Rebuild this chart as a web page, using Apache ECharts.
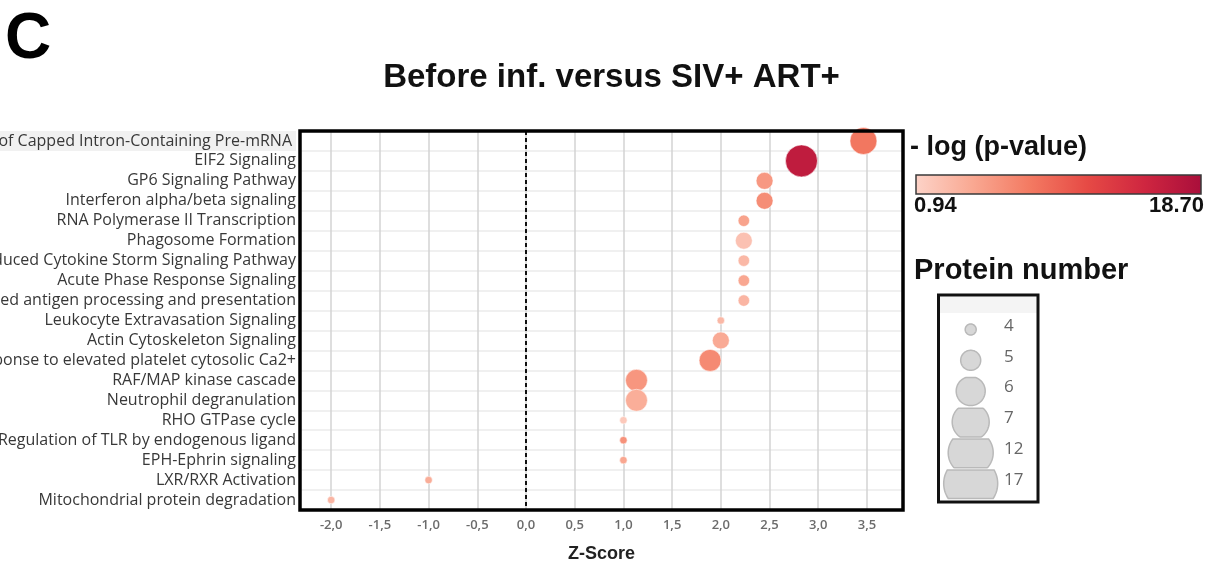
<!DOCTYPE html>
<html>
<head>
<meta charset="utf-8">
<script src="https://cdn.jsdelivr.net/npm/echarts@6/dist/echarts.min.js"></script>
<style>
  html, body { margin: 0; padding: 0; background: #fff; }
  #chart { width: 1223px; height: 565px; }
</style>
</head>
<body>
<div id="chart"></div>
<script>
// Enriched pathways, top to bottom
const pathways = [
  'Processing of Capped Intron-Containing Pre-mRNA',
  'EIF2 Signaling',
  'GP6 Signaling Pathway',
  'Interferon alpha/beta signaling',
  'RNA Polymerase II Transcription',
  'Phagosome Formation',
  'Pathogen Induced Cytokine Storm Signaling Pathway',
  'Acute Phase Response Signaling',
  'Class I MHC mediated antigen processing and presentation',
  'Leukocyte Extravasation Signaling',
  'Actin Cytoskeleton Signaling',
  'Response to elevated platelet cytosolic Ca2+',
  'RAF/MAP kinase cascade',
  'Neutrophil degranulation',
  'RHO GTPase cycle',
  'Regulation of TLR by endogenous ligand',
  'EPH-Ephrin signaling',
  'LXR/RXR Activation',
  'Mitochondrial protein degradation'
];

// Activation z-score per pathway
const zScores = [3.464, 2.828, 2.449, 2.449, 2.236, 2.236, 2.236, 2.236, 2.236,
                 2.0, 2.0, 1.89, 1.134, 1.134, 1.0, 1.0, 1.0, -1.0, -2.0];

// -log10(p-value) per pathway
const negLogP = [8.3, 16.6, 5.7, 6.6, 4.9, 2.4, 3.2, 4.6, 3.4,
                 3.2, 4.3, 6.8, 5.9, 4.0, 1.8, 6.2, 4.6, 4.1, 3.4];

// Number of proteins per pathway
const proteinCounts = [12, 17, 6, 6, 5, 6, 5, 5, 5, 4, 6, 7, 7, 7, 4, 4, 4, 4, 4];

// Colour scale range and size legend entries
const pRange = [0.94, 18.70];
const sizeLegendCounts = [4, 5, 6, 7, 12, 17];

const heatColors = ['#fdd3c8', '#f9a892', '#f37a62', '#e64a45', '#cf2640', '#a90e3b'];
const dotSize = { 4: 7.5, 5: 11.5, 6: 17, 7: 22, 12: 27, 17: 32 };
const legendSize = { 4: 11, 5: 20, 6: 29, 7: 37, 12: 45, 17: 54 };

const plot = { left: 300, top: 131, width: 603, height: 379 };
const boldFont = '"Liberation Sans", Arial, sans-serif';

// A circle cut flat at the top and bottom of its legend row
function bandCircle(cx, cy, r, top, bottom) {
  const pts = [];
  for (let k = 0; k <= 96; k++) {
    const a = (k / 96) * Math.PI * 2;
    const y = Math.min(bottom, Math.max(top, cy + r * Math.sin(a)));
    pts.push([cx + r * Math.cos(a), y]);
  }
  return pts;
}

const sizeLegend = [];
sizeLegendCounts.forEach((n, i) => {
  const cy = 329.5 + i * 30.8;
  sizeLegend.push({
    type: 'polygon',
    shape: { points: bandCircle(970.7, cy, legendSize[n] / 2, cy - 13.6, Math.min(cy + 15, 499)) },
    style: { fill: '#d7d7d7', stroke: '#b9b9b9', lineWidth: 1.5 },
    z: 20
  });
  sizeLegend.push({
    type: 'text', left: 1004, top: cy - 12,
    style: { text: String(n), fill: '#666', font: '17px "Open Sans", sans-serif' },
    z: 21
  });
});

const chart = echarts.init(document.getElementById('chart'));

chart.setOption({
  backgroundColor: '#fff',
  animation: false,
  grid: {
    left: plot.left, top: plot.top, width: plot.width, height: plot.height,
    containLabel: false,
    outerBoundsMode: 'none'
  },
  xAxis: {
    type: 'value',
    min: -2.32,
    max: 3.87,
    splitNumber: 12,
    name: 'Z-Score',
    nameLocation: 'middle',
    nameGap: 35,
    nameTextStyle: { fontFamily: boldFont, fontWeight: 'bold', fontSize: 18, color: '#222' },
    axisLine: { show: false },
    axisTick: { show: false },
    splitLine: { show: true, lineStyle: { color: '#d3d3d3', width: 1.5 } },
    axisLabel: {
      showMinLabel: false,
      showMaxLabel: false,
      margin: 9,
      color: '#6b6b6b',
      fontFamily: '"Open Sans", sans-serif',
      fontWeight: 600,
      fontSize: 13,
      formatter: v => v.toFixed(1).replace('.', ',')
    }
  },
  yAxis: {
    type: 'category',
    inverse: true,
    data: pathways,
    axisLine: { show: false },
    axisTick: { show: false },
    splitLine: { show: true, interval: 0, lineStyle: { color: '#ebebeb', width: 1.5 } },
    axisLabel: {
      interval: 0,
      margin: 4,
      color: '#383838',
      fontFamily: '"Open Sans", sans-serif',
      fontSize: 16,
      formatter: (v, i) => (i === 0 ? '{hl|' + v + '}' : v),
      rich: {
        hl: {
          backgroundColor: '#f1f1f1',
          padding: [2, 4, 2, 0],
          color: '#383838',
          fontFamily: '"Open Sans", sans-serif',
          fontSize: 16
        }
      }
    }
  },
  visualMap: [{
    type: 'continuous',
    show: false,
    seriesIndex: 0,
    dimension: 2,
    min: pRange[0],
    max: pRange[1],
    inRange: { color: heatColors }
  }],
  series: [{
    type: 'scatter',
    data: pathways.map((p, i) => [zScores[i], p, negLogP[i], proteinCounts[i]]),
    encode: { x: 0, y: 1 },
    symbolSize: val => dotSize[val[3]],
    itemStyle: { opacity: 1, borderColor: 'rgba(255,255,255,0.55)', borderWidth: 1 },
    markLine: {
      silent: true,
      symbol: ['none', 'none'],
      label: { show: false },
      lineStyle: { color: '#111', type: [4, 3], width: 2 },
      data: [{ xAxis: 0 }]
    },
    z: 3
  }],
  graphic: [
    // panel letter and title
    { type: 'text', left: 5, top: 8, style: { text: 'C', fill: '#000', font: 'bold 64px ' + boldFont } },
    { type: 'text', left: 'center', top: 61, style: { text: 'Before inf. versus SIV+ ART+', fill: '#111', font: 'bold 33px ' + boldFont } },
    // plot frame
    { type: 'rect', shape: { x: plot.left, y: plot.top, width: plot.width, height: plot.height },
      style: { fill: 'none', stroke: '#000', lineWidth: 3.5 }, z: 50 },
    // colour legend
    { type: 'text', left: 910, top: 134, style: { text: '- log (p-value)', fill: '#111', font: 'bold 27px ' + boldFont } },
    { type: 'rect', shape: { x: 916, y: 175, width: 285, height: 19 },
      style: {
        stroke: '#3a3a3a', lineWidth: 1.5,
        fill: new echarts.graphic.LinearGradient(0, 0, 1, 0,
          heatColors.map((c, i) => ({ offset: i / (heatColors.length - 1), color: c })))
      } },
    { type: 'text', left: 914, top: 195, style: { text: pRange[0].toFixed(2), fill: '#111', font: 'bold 22px ' + boldFont } },
    { type: 'text', right: 1223 - 1204, top: 195, style: { text: pRange[1].toFixed(2), fill: '#111', font: 'bold 22px ' + boldFont, align: 'right' } },
    // size legend
    { type: 'text', left: 914, top: 256, style: { text: 'Protein number', fill: '#111', font: 'bold 29px ' + boldFont } },
    { type: 'rect', shape: { x: 939, y: 296, width: 99, height: 206 }, style: { fill: '#fff', stroke: 'none' }, z: 10 },
    { type: 'rect', shape: { x: 940, y: 297, width: 97, height: 16 }, style: { fill: '#f4f4f4', stroke: 'none' }, z: 11 },
    ...sizeLegend,
    { type: 'rect', shape: { x: 938.5, y: 295, width: 99.5, height: 207 }, style: { fill: 'none', stroke: '#111', lineWidth: 3 }, z: 30 }
  ]
});
</script>
</body>
</html>
